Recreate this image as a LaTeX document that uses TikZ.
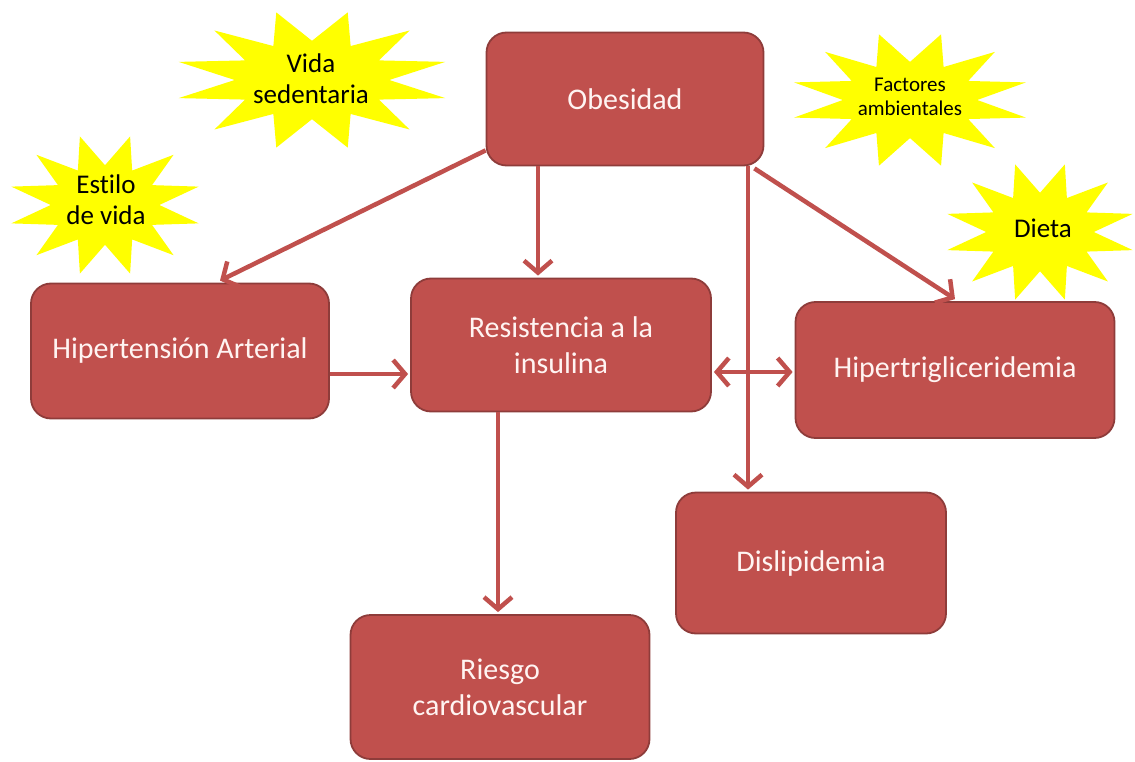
\documentclass[tikz,border=0pt]{standalone}
\usepackage{fontspec}
\setmainfont[Ligatures=NoCommon]{Carlito}
\usetikzlibrary{arrows.meta,calc}

\definecolor{boxred}{HTML}{C0504D}
\definecolor{boxline}{HTML}{8E3C3A}
\definecolor{boxtext}{HTML}{FFF4F2}
\definecolor{burstyellow}{HTML}{FFFF00}

\begin{document}
\begin{tikzpicture}[x=1pt, y=-1pt,
    box/.style={
        draw=boxline,
        line width=1.8pt,
        fill=boxred,
        rounded corners=20pt,
        text=boxtext,
        align=center,
        inner sep=0pt,
        font=\fontsize{30}{36}\selectfont
    },
    burst/.style={
        fill=burstyellow
    },
    burstlabel/.style={
        align=center,
        inner sep=0pt,
        font=\fontsize{27}{31}\selectfont
    },
    barb/.tip={Straight Barb[length=12pt, width=28pt, line width=4.5pt]},
    link/.style={
        draw=boxred,
        line width=4.5pt,
        -barb
    }
]
\useasboundingbox (0,0) rectangle (1135,762);

%%%%%%%%%%%%%%%%%%%%%%%%
% Estrellas
%%%%%%%%%%%%%%%%%%%%%%%%

% --- centro x / centro y / radio x / radio y ---
\foreach \cx/\cy/\rx/\ry in {312/80/138/70, 105/205/97/71, 910/100/120/68, 1040/232/96/70}
    \fill[burst] plot[samples at={0,...,23}, variable=\k]
        ({\cx + (1-0.44*mod(\k,2))*\rx*cos(15*\k+15)},
         {\cy + (1-0.44*mod(\k,2))*\ry*sin(15*\k+15)}) -- cycle;

\node[burstlabel] (sedentaria) at (311,79) {Vida\\sedentaria};
\node[burstlabel] (estilo) at (106,200) {Estilo\\de vida};
\node[burstlabel, font=\fontsize{21}{24}\selectfont] (ambientales) at (910,97) {Factores\\ambientales};
\node[burstlabel] (dieta) at (1043,228) {Dieta};

%%%%%%%%%%%%%%%%%%%%%%%%
% Cajas
%%%%%%%%%%%%%%%%%%%%%%%%

\node[box, minimum width=277pt, minimum height=133pt] (obesidad) at (625,99) {Obesidad};
\node[box, minimum width=298pt, minimum height=135pt] (hta) at (180,351) {Hipertensión Arterial};
\node[box, minimum width=300pt, minimum height=133pt] (resistencia) at (561,345) {Resistencia a la\\insulina};
\node[box, minimum width=319pt, minimum height=136pt] (trigli) at (955,370) {Hipertrigliceridemia};
\node[box, minimum width=270pt, minimum height=141pt] (disli) at (811,563) {Dislipidemia};
\node[box, minimum width=299pt, minimum height=144pt] (riesgo) at (500,687) {Riesgo\\cardiovascular};

%%%%%%%%%%%%%%%%%%%%%%%%
% Flechas
%%%%%%%%%%%%%%%%%%%%%%%%

\draw[link] ([yshift=16pt]obesidad.south west) -- ([xshift=40pt, yshift=2pt]hta.north);
\draw[link] ([xshift=-23pt]resistencia.north |- obesidad.south) -- ([xshift=-23pt, yshift=2pt]resistencia.north);
\draw[link] ([xshift=-10pt, yshift=-2pt]obesidad.south east) -- ([yshift=2pt]trigli.north);
\draw[link] ([yshift=-23pt]hta.east) -- ([yshift=-23pt, xshift=-2pt]hta.east -| resistencia.west);
\draw[link, barb-barb]
    ([yshift=-27pt, xshift=2pt]resistencia.east) -- ([yshift=-27pt, xshift=-2pt]resistencia.east -| trigli.west);
\draw[link] ([xshift=-63pt]disli.north |- obesidad.south) -- ([xshift=-63pt, yshift=2pt]disli.north);
\draw[link] ([xshift=-63pt]resistencia.south) -- ([xshift=-63pt, yshift=2pt]resistencia.south |- riesgo.north);

\end{tikzpicture}
\end{document}
